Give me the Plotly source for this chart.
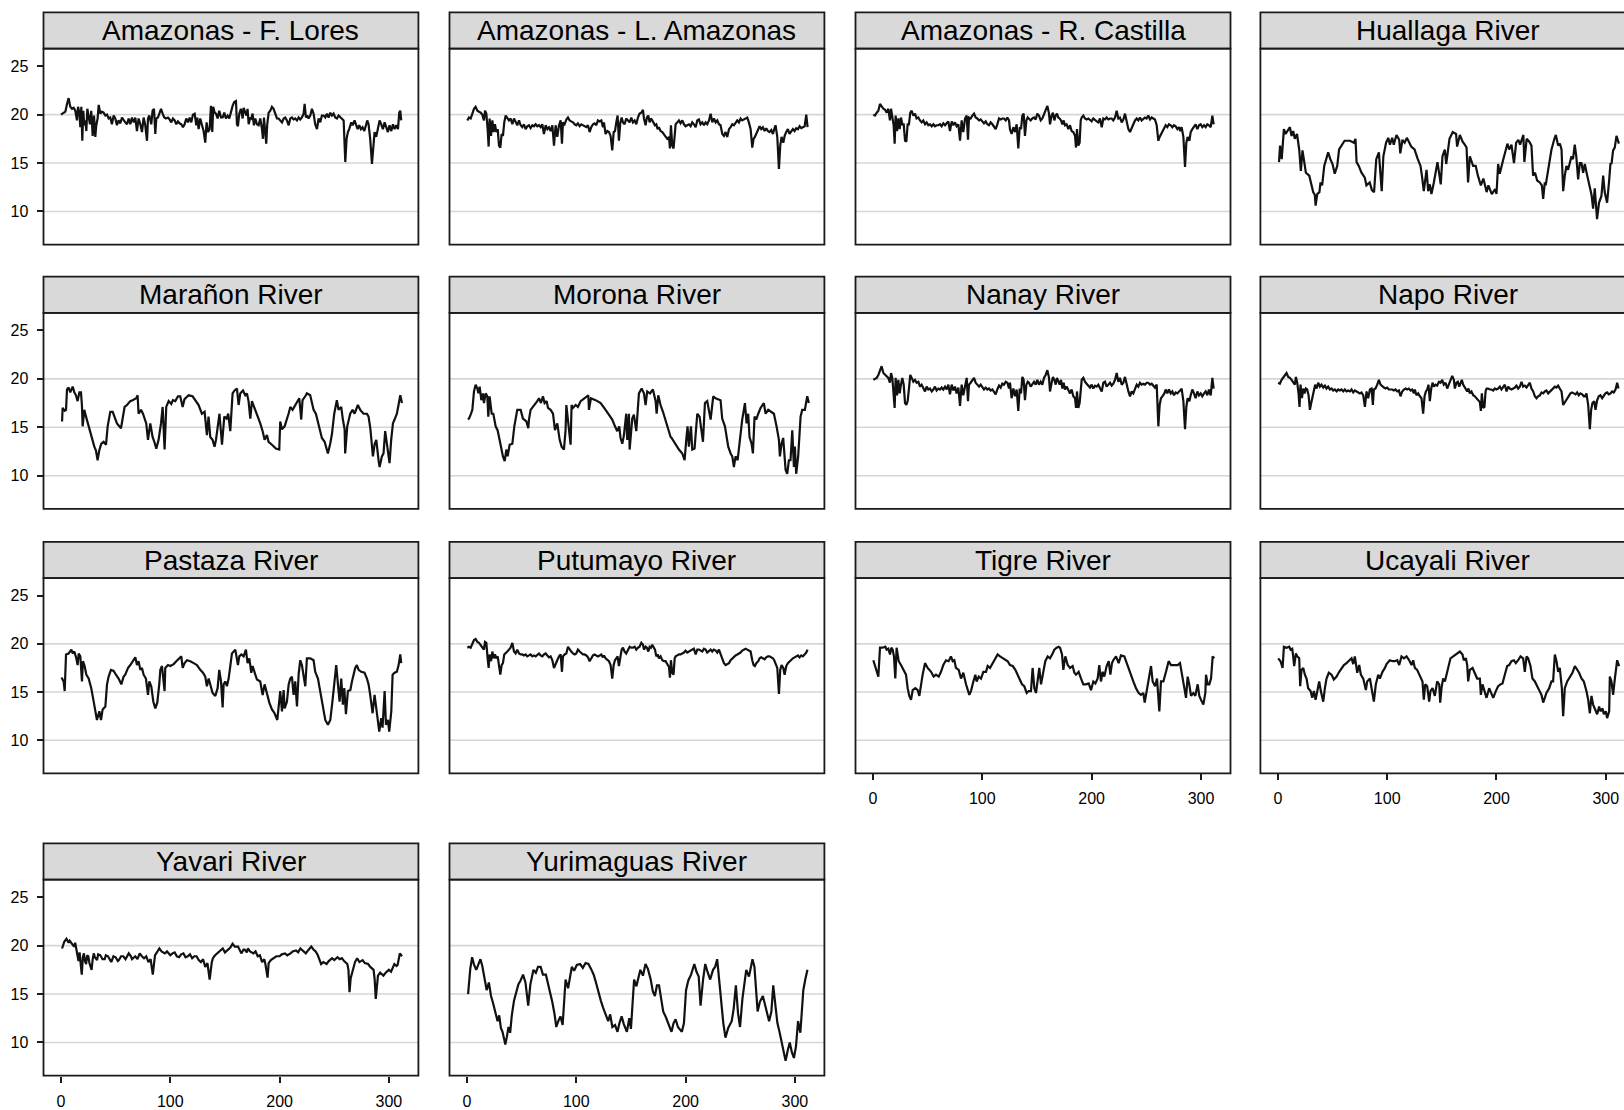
import sys
import plotly.graph_objects as go

# ---------------- DATA ----------------
Y_TICKS = [10, 15, 20, 25]
X_TICKS = [0, 100, 200, 300]

flores_x = [0, 2.4, 4.0, 5.5, 7.0, 8.5, 10.1, 11.6, 13.1, 14.6,
            15.6, 16.8, 17.7, 18.6, 19.5, 20.4, 21.3, 22.3, 23.2, 24.1,
            25.3, 26.5, 27.7, 29.0, 30.2, 31.4, 32.3, 33.5, 34.5, 36.0,
            37.5, 39.0, 40.6, 42.1, 43.6, 45.1, 46.6, 48.2, 49.7, 51.2,
            52.7, 54.3, 55.8, 57.3, 58.8, 60.4, 61.9, 63.4, 64.9, 66.5,
            68.0, 69.5, 71.0, 72.6, 74.1, 75.6, 77.1, 78.7, 79.6, 80.8,
            82.6, 83.8, 85.1, 86.3, 87.2, 88.7, 89.9, 91.5, 93.0, 94.5,
            96.0, 97.9, 99.4, 100.9, 102.4, 104.0, 105.5, 107.0, 108.5, 110.1,
            111.6, 113.1, 114.6, 116.2, 117.7, 119.2, 120.7, 122.3, 123.8, 124.7,
            125.9, 127.4, 129.0, 130.5, 132.0, 133.2, 134.5, 136.0, 137.2, 138.4,
            139.3, 140.6, 141.8, 143.3, 144.8, 146.4, 147.9, 149.4, 150.9, 152.5,
            154.0, 155.5, 157.0, 158.5, 160.1, 161.0, 161.9, 163.1, 164.6, 166.2,
            167.1, 168.6, 169.8, 170.7, 171.7, 173.2, 174.1, 175.3, 176.5, 177.8,
            179.3, 180.8, 182.3, 183.9, 184.8, 185.7, 186.9, 187.8, 188.7, 190.0,
            191.5, 193.0, 194.5, 196.1, 197.6, 199.1, 200.6, 202.2, 203.7, 205.2,
            206.7, 208.3, 209.8, 211.3, 212.8, 214.3, 215.9, 217.4, 218.9, 220.4,
            222.0, 222.9, 224.1, 225.3, 226.5, 228.1, 229.6, 231.1, 232.6, 234.2,
            235.7, 237.2, 238.7, 240.3, 241.8, 243.3, 244.8, 246.4, 247.9, 249.4,
            250.9, 252.5, 254.0, 255.5, 257.0, 258.6, 260.1, 261.3, 262.5, 263.7,
            265.6, 266.8, 268.6, 269.8, 271.4, 272.9, 274.4, 275.9, 277.5, 279.0,
            280.2, 281.4, 282.9, 284.5, 285.7, 286.9, 288.4, 289.9, 291.5, 293.0,
            294.5, 296.1, 297.6, 299.1, 300.6, 302.2, 303.7, 305.2, 306.7, 308.3,
            309.5, 310.4, 311.3]
flores_y = [20.0, 20.2, 20.3, 21.1, 21.7, 20.8, 20.6, 20.7, 20.4, 19.4,
            20.8, 20.2, 18.7, 20.8, 17.3, 20.4, 18.9, 19.4, 18.3, 20.6,
            19.9, 19.0, 20.4, 17.8, 19.9, 17.7, 18.9, 19.6, 21.0, 20.1,
            20.3, 20.2, 19.9, 20.0, 19.6, 19.7, 19.0, 19.9, 19.6, 18.9,
            19.4, 19.1, 19.7, 19.4, 19.2, 19.0, 19.6, 19.0, 19.7, 19.2,
            19.7, 18.3, 19.6, 19.0, 18.2, 19.7, 18.9, 17.3, 19.6, 19.9,
            19.0, 20.4, 20.6, 18.0, 19.6, 19.7, 20.1, 20.6, 20.1, 19.7,
            19.6, 19.7, 19.5, 19.2, 19.6, 19.4, 19.0, 19.3, 19.1, 19.0,
            18.7, 19.0, 19.6, 19.2, 19.7, 19.2, 20.0, 20.1, 18.9, 19.7,
            18.5, 19.6, 18.9, 18.3, 17.1, 19.2, 18.2, 18.5, 20.9, 18.2,
            20.8, 20.2, 20.1, 19.6, 20.4, 19.7, 19.7, 20.2, 19.6, 19.9,
            19.6, 20.4, 20.9, 21.3, 21.4, 19.0, 18.8, 20.1, 20.6, 19.6,
            20.7, 20.2, 19.9, 20.6, 19.0, 19.7, 19.6, 20.1, 18.9, 19.6,
            19.0, 18.9, 19.6, 18.5, 17.5, 19.7, 17.5, 17.0, 19.0, 20.2,
            20.4, 20.8, 20.6, 20.1, 19.6, 19.6, 19.4, 19.2, 19.6, 19.7,
            19.4, 18.9, 19.6, 19.7, 19.5, 19.6, 19.4, 19.7, 19.5, 19.7,
            20.1, 21.1, 19.7, 19.9, 19.6, 19.9, 20.6, 20.1, 19.0, 18.5,
            19.6, 19.2, 19.9, 19.9, 19.7, 20.1, 19.7, 20.2, 19.9, 20.1,
            19.7, 19.6, 19.9, 19.7, 19.6, 19.4, 15.1, 17.5, 18.2, 18.5,
            19.2, 18.9, 19.4, 19.0, 18.5, 18.9, 18.5, 18.7, 18.3, 18.9,
            19.4, 19.0, 17.5, 14.9, 17.1, 18.2, 17.7, 18.5, 19.4, 19.0,
            18.5, 19.2, 18.7, 18.2, 18.9, 18.3, 19.0, 18.5, 18.9, 18.5,
            20.2, 20.4, 19.4]

# shared sampling positions for the flat-type rivers
flat_x = [0.3, 1.8, 3.4, 4.9, 6.4, 7.9, 9.5, 11.0, 12.5, 14.0,
          15.5, 16.5, 17.7, 18.9, 19.8, 20.7, 22.0, 23.2, 24.4, 25.6,
          26.8, 28.1, 29.3, 30.5, 31.7, 32.9, 34.1, 35.4, 36.9, 38.4,
          39.9, 41.5, 43.0, 44.5, 46.0, 47.6, 49.1, 50.6, 52.1, 53.7,
          55.2, 56.7, 58.2, 59.8, 61.3, 62.8, 64.3, 65.9, 67.4, 68.9,
          70.4, 72.0, 73.5, 75.0, 76.5, 78.1, 79.6, 81.1, 82.6, 84.2,
          85.7, 86.9, 87.8, 89.3, 90.9, 92.4, 93.9, 95.4, 97.0, 98.5,
          100.0, 101.5, 103.1, 104.6, 106.1, 107.6, 109.2, 110.7, 112.2, 113.7,
          115.3, 116.8, 118.3, 119.8, 121.4, 122.9, 124.4, 125.3, 126.8, 128.4,
          129.9, 131.4, 132.9, 134.2, 135.4, 136.6, 137.8, 139.0, 140.3, 141.5,
          142.7, 144.2, 145.7, 147.3, 148.8, 150.3, 151.8, 153.4, 154.9, 156.4,
          157.9, 159.5, 161.0, 161.9, 163.4, 164.6, 165.9, 167.1, 168.3, 169.5,
          170.7, 172.0, 173.2, 174.4, 175.6, 177.1, 178.7, 180.2, 181.7, 183.2,
          184.8, 185.7, 186.6, 187.8, 189.0, 190.0, 190.9, 192.4, 193.9, 195.4,
          197.0, 198.5, 200.0, 201.5, 203.1, 204.6, 206.1, 207.6, 209.2, 210.7,
          212.2, 213.7, 215.3, 216.8, 218.3, 219.8, 221.4, 222.9, 224.4, 225.9,
          227.5, 229.0, 230.5, 232.0, 233.6, 235.1, 236.6, 238.1, 239.7, 241.2,
          242.7, 244.2, 245.7, 247.3, 248.8, 250.3, 251.8, 253.4, 254.9, 256.4,
          257.9, 259.5, 261.0, 262.2, 263.4, 264.7, 266.5, 267.7, 269.2, 270.7,
          272.3, 273.8, 275.3, 276.8, 278.4, 279.9, 281.1, 282.3, 283.9, 285.4,
          286.6, 287.8, 289.4, 290.6, 292.1, 293.6, 295.1, 296.7, 298.2, 299.7,
          301.2, 302.8, 304.3, 305.8, 307.3, 308.9, 310.4, 311.6]

lamazonas_y = [19.4, 19.7, 19.6, 20.1, 20.6, 20.8, 20.4, 20.3, 20.2, 20.0,
               19.4, 20.4, 20.1, 18.5, 16.7, 19.6, 17.8, 19.4, 18.2, 19.0,
               18.2, 18.5, 16.8, 16.6, 18.0, 17.8, 19.2, 19.9, 19.6, 19.4,
               19.6, 19.0, 19.6, 19.2, 18.9, 19.4, 18.9, 18.7, 19.0, 18.5,
               18.8, 18.9, 18.6, 18.9, 18.8, 19.0, 18.8, 18.9, 18.7, 19.0,
               18.0, 18.9, 18.5, 18.7, 18.3, 18.9, 16.8, 18.9, 17.7, 18.9,
               19.4, 17.0, 19.2, 19.0, 19.5, 19.7, 19.4, 19.3, 19.2, 19.0,
               18.9, 19.1, 18.8, 19.0, 18.9, 18.8, 18.7, 18.9, 18.2, 18.7,
               19.0, 19.1, 18.9, 19.4, 19.3, 19.4, 18.7, 19.2, 18.0, 18.3,
               18.2, 17.8, 16.3, 18.2, 18.3, 19.2, 19.9, 17.3, 19.2, 19.7,
               19.2, 19.0, 19.6, 19.4, 19.2, 19.7, 19.2, 19.4, 19.0, 19.7,
               20.1, 20.2, 20.5, 19.6, 18.9, 19.7, 19.9, 19.2, 19.6, 19.4,
               19.2, 18.9, 19.0, 18.5, 18.7, 18.3, 18.2, 18.0, 17.8, 17.5,
               17.7, 16.5, 18.9, 16.8, 16.5, 18.5, 19.0, 19.2, 19.4, 19.1,
               19.4, 19.0, 18.8, 18.9, 19.0, 18.8, 19.2, 19.0, 18.7, 19.4,
               19.5, 19.0, 19.2, 18.9, 19.2, 19.0, 19.4, 20.1, 19.2, 19.6,
               19.2, 19.4, 19.0, 18.9, 18.0, 17.8, 18.2, 17.7, 18.5, 18.7,
               19.0, 18.9, 19.1, 19.4, 19.2, 19.6, 19.4, 19.5, 19.6, 19.7,
               19.2, 18.5, 16.6, 17.5, 17.7, 18.0, 18.5, 18.8, 18.5, 18.7,
               18.3, 18.6, 18.3, 18.2, 18.4, 18.0, 18.5, 18.9, 17.7, 14.4,
               16.8, 17.7, 17.1, 17.8, 18.2, 18.5, 18.0, 18.3, 18.5, 18.3,
               18.6, 18.5, 18.8, 18.6, 18.7, 18.8, 20.0, 18.7]

rcastilla_y = [20.0, 19.9, 20.2, 20.4, 21.1, 20.8, 20.6, 20.5, 20.2, 20.6,
               19.4, 20.6, 19.9, 18.9, 17.0, 19.9, 18.3, 19.6, 18.5, 19.7,
               19.0, 19.0, 17.3, 17.2, 19.0, 19.0, 20.2, 20.4, 19.9, 20.1,
               19.6, 19.7, 19.4, 19.2, 19.4, 19.0, 19.2, 18.9, 19.0, 18.8,
               19.0, 18.8, 18.9, 18.9, 19.0, 18.8, 19.1, 18.9, 19.1, 19.3,
               18.3, 19.3, 18.9, 19.2, 18.8, 19.0, 17.3, 19.4, 18.2, 19.6,
               19.9, 17.4, 19.7, 19.6, 19.9, 20.1, 19.7, 19.6, 19.4, 19.5,
               19.3, 19.1, 19.3, 19.0, 18.9, 19.2, 19.0, 18.7, 18.5, 19.0,
               19.6, 19.5, 19.6, 19.6, 19.4, 19.7, 19.4, 18.5, 18.0, 18.7,
               18.2, 19.0, 16.5, 18.7, 18.5, 19.9, 20.1, 17.8, 19.4, 19.7,
               19.6, 19.4, 19.6, 19.7, 19.5, 20.1, 19.9, 19.4, 19.6, 20.1,
               20.4, 20.9, 20.1, 19.0, 19.9, 20.2, 19.4, 19.9, 20.1, 19.7,
               19.6, 19.4, 19.0, 19.4, 18.9, 19.0, 18.5, 18.9, 18.3, 18.2,
               17.8, 16.6, 18.5, 16.8, 17.1, 19.4, 19.7, 19.9, 19.6, 19.5,
               19.6, 19.4, 19.3, 19.6, 19.4, 19.3, 19.2, 19.6, 18.7, 19.6,
               19.5, 19.7, 19.5, 19.6, 19.6, 19.4, 19.7, 20.4, 19.6, 19.7,
               19.2, 19.5, 20.1, 19.4, 18.5, 18.2, 18.7, 19.0, 19.4, 19.6,
               19.4, 19.7, 19.4, 19.6, 19.7, 19.6, 19.9, 19.5, 19.7, 19.6,
               19.5, 18.9, 17.3, 17.7, 18.0, 18.2, 18.7, 18.9, 18.7, 19.0,
               18.9, 18.7, 18.9, 18.8, 18.5, 18.7, 18.3, 18.7, 17.7, 14.6,
               17.1, 17.7, 17.3, 18.2, 18.5, 18.7, 19.0, 18.5, 18.9, 19.0,
               18.7, 18.9, 18.7, 19.0, 18.9, 18.7, 19.9, 19.0]

nanay_y = [19.9, 20.0, 20.1, 20.4, 20.9, 21.3, 20.6, 20.4, 20.2, 20.1,
           19.6, 20.6, 20.1, 18.7, 17.0, 20.1, 18.3, 19.9, 18.5, 19.4,
           20.1, 19.4, 17.5, 17.3, 17.7, 19.0, 20.4, 20.1, 19.7, 19.9,
           19.6, 19.7, 19.2, 19.4, 19.0, 18.7, 19.2, 18.9, 19.0, 18.7,
           18.9, 19.2, 18.8, 19.0, 18.9, 19.1, 18.9, 19.2, 18.9, 19.4,
           18.4, 19.4, 18.8, 19.2, 18.5, 19.1, 17.2, 19.4, 18.3, 19.4,
           20.1, 17.7, 19.4, 19.6, 19.9, 20.1, 19.6, 19.4, 19.2, 19.4,
           19.1, 18.9, 19.1, 18.9, 19.0, 18.8, 18.9, 18.6, 18.4, 18.9,
           19.3, 19.1, 19.5, 19.4, 19.7, 19.6, 19.0, 19.6, 18.0, 19.0,
           18.2, 18.9, 16.7, 19.0, 18.5, 20.2, 19.9, 17.8, 19.4, 19.7,
           19.6, 19.2, 19.5, 19.7, 19.4, 19.9, 19.4, 19.7, 19.4, 20.1,
           20.4, 20.9, 20.1, 18.7, 19.6, 20.2, 19.9, 19.4, 20.1, 19.7,
           19.4, 19.9, 19.0, 19.6, 18.9, 19.2, 18.9, 18.5, 18.9, 18.2,
           18.0, 17.0, 18.7, 17.0, 17.5, 19.2, 19.9, 20.1, 19.7, 19.5,
           19.3, 19.1, 19.4, 19.0, 19.3, 19.2, 19.4, 19.0, 18.7, 19.6,
           19.7, 19.2, 19.4, 19.6, 19.3, 19.5, 19.9, 20.6, 19.7, 20.1,
           19.4, 19.6, 20.2, 19.4, 18.7, 18.2, 18.7, 18.5, 19.0, 19.4,
           19.2, 19.6, 19.4, 19.5, 19.4, 19.6, 19.6, 19.4, 19.5, 19.3,
           19.1, 19.4, 15.1, 17.3, 18.0, 18.2, 18.5, 18.9, 18.5, 18.9,
           18.5, 18.7, 18.3, 18.6, 18.5, 18.7, 18.8, 19.0, 17.7, 14.8,
           17.1, 18.0, 17.7, 18.3, 18.9, 18.5, 18.0, 18.7, 18.3, 18.5,
           18.2, 18.5, 18.7, 18.3, 18.9, 18.3, 20.1, 19.0]

napo_y = [19.6, 19.5, 19.9, 20.1, 20.4, 20.6, 20.2, 20.1, 19.9, 19.7,
          19.4, 20.2, 19.6, 18.5, 17.1, 19.4, 18.0, 19.0, 18.5, 19.0,
          18.9, 18.3, 16.8, 17.5, 18.2, 18.5, 19.4, 19.0, 19.6, 19.2,
          19.4, 19.1, 19.3, 19.0, 19.2, 18.9, 19.0, 18.8, 18.9, 18.7,
          18.9, 18.8, 18.9, 18.7, 18.9, 18.7, 18.8, 18.7, 18.9, 18.6,
          18.8, 18.7, 18.6, 18.5, 18.6, 18.3, 17.1, 18.7, 18.0, 18.9,
          19.0, 17.3, 18.9, 19.0, 19.4, 19.9, 19.4, 19.2, 19.1, 19.0,
          19.1, 18.9, 18.9, 18.9, 18.8, 18.9, 18.7, 18.8, 18.2, 18.7,
          18.9, 19.0, 18.9, 19.0, 18.8, 18.9, 18.5, 18.9, 18.3, 18.5,
          18.2, 18.0, 16.4, 18.2, 18.7, 18.9, 19.4, 17.7, 19.0, 19.6,
          19.2, 19.4, 19.3, 19.7, 19.6, 19.9, 19.4, 19.6, 19.0, 19.4,
          19.9, 20.3, 19.9, 19.0, 19.6, 19.7, 19.2, 19.6, 19.9, 19.4,
          19.2, 18.9, 18.7, 19.0, 18.5, 18.7, 18.3, 18.2, 18.0, 17.8,
          17.6, 16.7, 18.5, 17.0, 17.1, 18.7, 19.0, 19.0, 18.9, 18.9,
          18.8, 19.0, 18.9, 19.0, 19.2, 18.9, 19.1, 19.4, 18.7, 19.2,
          19.0, 18.9, 19.0, 19.1, 19.3, 19.0, 19.2, 19.7, 19.2, 19.3,
          19.1, 19.4, 19.6, 19.0, 18.7, 18.2, 18.0, 18.2, 18.3, 18.6,
          18.5, 18.7, 18.8, 18.5, 18.7, 18.9, 19.0, 19.2, 19.1, 19.3,
          19.0, 18.7, 17.3, 17.5, 17.8, 18.0, 18.3, 18.5, 18.6, 18.5,
          18.4, 18.6, 18.3, 18.5, 18.4, 18.2, 18.2, 18.5, 17.3, 14.8,
          16.8, 17.5, 17.7, 16.8, 17.8, 18.2, 18.3, 18.0, 18.3, 18.5,
          18.6, 18.4, 18.5, 18.7, 18.6, 18.9, 19.6, 19.0]

putumayo_y = [19.6, 19.7, 19.6, 20.1, 20.4, 20.5, 20.2, 20.1, 19.9, 19.7,
              19.4, 20.2, 20.1, 18.5, 17.5, 18.9, 18.2, 19.2, 18.5, 18.9,
              18.5, 18.7, 17.5, 16.8, 17.8, 18.0, 18.9, 19.0, 19.2, 19.4,
              19.6, 20.1, 19.2, 19.0, 19.4, 19.0, 18.9, 18.9, 18.8, 18.9,
              18.7, 18.8, 18.9, 18.7, 18.8, 18.7, 18.9, 19.0, 18.8, 18.7,
              18.9, 19.0, 18.8, 18.6, 18.7, 18.3, 17.5, 18.0, 18.3, 18.7,
              18.9, 17.1, 18.7, 18.9, 19.0, 19.7, 19.4, 19.2, 19.0, 18.9,
              19.0, 19.4, 19.2, 19.0, 18.9, 18.9, 18.8, 18.6, 18.2, 18.5,
              18.8, 18.9, 18.8, 18.7, 18.8, 18.9, 18.6, 18.8, 18.5, 18.3,
              18.2, 17.8, 16.4, 17.8, 18.3, 18.5, 18.7, 17.7, 18.7, 19.4,
              19.6, 19.2, 19.0, 19.4, 19.7, 19.6, 19.6, 19.7, 19.4, 19.6,
              19.7, 20.1, 19.9, 19.4, 19.7, 19.6, 19.2, 19.7, 19.6, 19.9,
              19.7, 19.4, 18.7, 18.9, 18.5, 18.7, 18.3, 18.2, 18.2, 17.9,
              17.6, 16.5, 18.3, 17.0, 16.8, 18.5, 18.7, 18.8, 18.9, 18.9,
              19.0, 19.1, 19.3, 19.1, 19.2, 19.3, 19.4, 19.5, 18.9, 19.4,
              19.4, 19.3, 19.2, 19.5, 19.4, 19.1, 19.3, 19.4, 19.2, 19.4,
              19.3, 19.1, 19.4, 19.0, 18.5, 18.0, 17.8, 17.9, 18.0, 18.3,
              18.5, 18.7, 18.8, 18.9, 19.0, 19.1, 19.3, 19.4, 19.5, 19.4,
              19.3, 19.2, 18.3, 17.8, 17.7, 18.0, 18.2, 18.5, 18.6, 18.5,
              18.4, 18.6, 18.7, 18.7, 18.6, 18.5, 18.3, 18.0, 17.5, 14.8,
              17.3, 17.8, 17.5, 16.8, 17.7, 18.0, 18.2, 18.3, 18.5, 18.6,
              18.7, 18.8, 18.6, 18.8, 18.7, 18.9, 19.1, 19.4]

huallaga_x = [1, 2, 3.5, 5.5, 7, 11, 12.5, 14, 15.5, 17.5,
              19.5, 21, 22.5, 24, 25.6, 28.7, 31, 32.3, 33.8, 34.5,
              36, 38, 39, 40.5, 42.4, 46, 48, 50, 52, 54.3,
              56, 58, 61, 66, 69.5, 71, 72, 74, 76.5, 79.5,
              81, 84, 86, 88, 90, 92.4, 95, 96.5, 99, 101,
              102.5, 104.6, 106, 108.5, 111, 112, 114, 116, 118, 122,
              125, 128, 130.5, 132, 133.5, 136, 137.5, 139, 140.5, 142.7,
              144, 146, 149, 150.6, 152.7, 154, 157, 160, 163, 164,
              166.5, 169, 171, 172.6, 174, 175.6, 178.6, 181, 183, 185.7,
              188, 191, 192.6, 195.7, 198.8, 200, 201.5, 203, 206, 210,
              211.6, 213.7, 216, 218, 220, 221.6, 224.6, 225.5, 227.6, 230,
              232, 233.5, 235.3, 237.2, 239.6, 241.5, 242.7, 244.2, 245, 247.3,
              248.8, 250.3, 253, 254.3, 256.4, 258, 259.5, 261, 262.5, 264,
              265.5, 268.6, 270, 271.6, 273, 274.7, 276.2, 277.7, 279.3, 280.8,
              283, 285, 287, 288.4, 289.9, 292, 293.8, 296, 297.6, 299,
              301.2, 303, 304.3, 305.2, 306.7, 308.2, 309.8, 312]
huallaga_y = [15.1, 16.8, 15.4, 18.5, 18.0, 18.7, 17.8, 18.3, 17.5, 18.0,
              16.4, 14.2, 16.3, 15.1, 14.0, 13.7, 12.7, 12.0, 11.7, 10.6,
              11.8, 12.0, 13.0, 12.7, 14.7, 16.1, 15.4, 14.9, 13.9, 14.7,
              16.4, 16.8, 17.3, 17.3, 17.1, 17.5, 15.1, 14.7, 14.0, 13.5,
              12.7, 13.0, 12.2, 12.0, 15.4, 16.1, 12.1, 15.7, 17.1, 17.6,
              16.9, 17.6, 16.9, 17.9, 17.4, 16.0, 17.4, 17.1, 17.6, 16.7,
              16.4, 15.4, 14.7, 13.5, 12.1, 14.3, 12.1, 12.8, 11.8, 13.0,
              14.0, 15.1, 12.8, 15.7, 16.4, 14.9, 17.5, 18.2, 18.0, 16.7,
              17.9, 17.2, 16.9, 16.6, 13.0, 15.7, 14.7, 14.7, 13.7, 12.7,
              13.4, 12.0, 12.7, 11.8, 12.3, 11.8, 14.9, 13.9, 15.3, 17.0,
              16.4, 16.9, 15.0, 17.1, 17.4, 16.9, 17.9, 15.1, 17.5, 17.2,
              16.8, 13.7, 14.0, 13.2, 13.0, 12.7, 11.3, 13.0, 12.7, 14.4,
              15.7, 16.4, 17.5, 17.9, 16.8, 17.0, 16.4, 12.1, 13.7, 14.7,
              14.3, 15.7, 15.4, 16.9, 15.7, 13.3, 15.0, 15.0, 14.0, 14.9,
              13.7, 12.7, 11.7, 10.3, 12.4, 9.2, 10.9, 11.6, 13.7, 12.0,
              10.9, 13.1, 15.0, 14.9, 16.3, 16.6, 17.8, 17.0]

maranon_x = [1, 1.5, 3.4, 4.6, 5.5, 7, 8.5, 10.7, 12.2, 13.7,
             15.2, 16.8, 18.3, 19.2, 19.8, 21.3, 22.9, 25.3, 27.7, 29,
             30.5, 32, 33.5, 35, 36.9, 39, 41.2, 42.7, 45.1, 47.3,
             49, 51.2, 54.9, 56.4, 58.2, 60.4, 63.4, 65.5, 68.9, 70.1,
             71, 73.2, 75, 78, 79.6, 81.7, 83.8, 85.4, 87.2, 89.3,
             91.5, 93, 94.8, 96.3, 98.5, 100.9, 102.4, 104.6, 107, 109.1,
             111.3, 113, 116.8, 120.4, 123.5, 125.9, 128.9, 131.4, 133.5, 135,
             136.6, 138.7, 140.5, 141.8, 145, 147.3, 149.4, 151.5, 153, 154.9,
             157, 158.8, 161, 162.5, 164, 166.5, 168.6, 170.1, 171.6, 173.2,
             174.7, 177.7, 179.9, 182.3, 184.5, 186.3, 188.4, 189.9, 193, 196.6,
             199.7, 200.6, 202.1, 204.6, 208.2, 209.8, 211.9, 215.9, 218, 219.8,
             221, 223.5, 225, 228, 231.1, 233.2, 236.3, 238.7, 241.2, 242.7,
             244.2, 246.3, 247.9, 250, 252.4, 253.9, 256.4, 257.9, 259.5, 260,
             261.9, 264.6, 266.8, 268.6, 271.6, 273.8, 276.8, 279.9, 281.4, 283,
             284.5, 285.4, 287, 288.5, 290.5, 291.5, 293.6, 295.1, 296.6, 299.1,
             300.6, 302.1, 303.7, 305.2, 307.3, 308.8, 310.4, 312]
maranon_y = [15.6, 17.0, 16.7, 16.8, 18.9, 19.1, 18.6, 19.2, 18.6, 18.3,
             17.7, 18.6, 18.6, 17.2, 15.1, 16.8, 16.1, 15.1, 14.2, 13.5,
             13.0, 12.6, 11.6, 12.6, 13.3, 13.5, 13.2, 15.1, 16.6, 16.6,
             16.1, 15.4, 14.9, 15.8, 17.1, 17.3, 17.7, 17.8, 18.0, 18.3,
             16.4, 16.8, 16.4, 15.4, 13.7, 15.4, 14.0, 13.5, 12.8, 13.7,
             15.4, 17.1, 12.7, 17.1, 17.7, 17.4, 17.8, 17.7, 18.2, 18.2,
             17.1, 17.9, 18.3, 18.2, 17.7, 17.3, 16.4, 16.6, 14.2, 16.1,
             14.0, 13.7, 13.0, 13.7, 16.4, 13.2, 16.1, 15.9, 16.4, 14.6,
             18.5, 18.8, 19.0, 17.3, 18.5, 18.8, 18.3, 18.5, 17.7, 15.9,
             17.7, 16.8, 16.3, 15.4, 14.6, 13.7, 14.2, 13.5, 13.2, 12.8,
             12.7, 15.6, 14.8, 15.1, 16.4, 17.1, 16.8, 17.7, 18.0, 15.8,
             17.8, 18.2, 18.5, 18.3, 16.8, 16.4, 15.1, 13.9, 13.5, 12.8,
             12.3, 13.3, 14.3, 16.4, 17.8, 16.8, 17.1, 15.8, 14.8, 12.3,
             15.1, 16.4, 16.8, 16.4, 17.3, 16.8, 16.4, 16.4, 16.1, 14.9,
             13.3, 12.0, 13.3, 13.7, 11.6, 10.9, 12.0, 12.3, 14.6, 12.3,
             11.3, 13.7, 15.4, 15.8, 16.4, 17.3, 18.3, 17.5]

morona_x = [1, 1.8, 3.7, 4.9, 6.4, 7.9, 9.5, 10.4, 11.6, 13.1,
            14.6, 15.5, 17.1, 18.6, 19.5, 20.7, 22.6, 24.1, 26.2, 28,
            29.3, 31.1, 32.9, 34.5, 36, 37.2, 39, 41.5, 43.3, 46,
            49.1, 51.2, 54.3, 56.1, 56.7, 58.2, 60.4, 64.3, 65.9, 67.7,
            69.5, 71, 72.9, 74.1, 76.5, 78.7, 80.5, 82.6, 84.8, 86.6,
            88.7, 90.2, 90.9, 94.8, 95.7, 97, 99.4, 101.5, 104, 107.9,
            111, 111.6, 113.4, 117.7, 122.3, 126.8, 129.3, 132.9, 135.4, 137.5,
            139.3, 140.5, 142.1, 143.6, 145.7, 146.6, 148.2, 148.8, 151.2, 152.7,
            154.9, 157.3, 159.8, 161.9, 163.4, 164.9, 167.4, 170.1, 172.6, 173.5,
            175, 177.1, 179.3, 183.2, 186.3, 187.2, 190.9, 193.9, 197, 199.1,
            200.6, 201.8, 203, 204.9, 206.1, 208.2, 210.7, 212.8, 215.9, 217.7,
            219.8, 222.9, 225.3, 227.4, 232, 233.5, 236, 239, 241.2, 242.7,
            244.2, 245.7, 247.6, 248.8, 250.3, 251.8, 254.3, 255.8, 257.3, 258.5,
            260.4, 261.6, 263.1, 264.6, 266.5, 268.6, 271.6, 273.2, 275.6, 277.7,
            280.8, 283.2, 285.4, 286.3, 287.8, 289.3, 291.5, 293, 294.5, 296,
            297.6, 299.1, 300, 301.2, 303, 304.3, 305.2, 306.7, 309.1, 311.3,
            312.8]
morona_y = [15.8, 15.9, 16.4, 16.8, 18.7, 19.4, 19.0, 18.5, 19.2, 17.8,
            18.5, 17.5, 18.5, 18.2, 16.1, 18.2, 16.4, 16.4, 15.1, 14.7,
            14.0, 13.0, 12.0, 11.5, 12.7, 12.0, 13.2, 13.3, 15.1, 16.8,
            16.8, 15.9, 15.6, 14.9, 15.8, 16.8, 17.1, 17.7, 18.0, 17.5,
            18.2, 17.5, 17.7, 17.0, 16.8, 16.4, 14.7, 15.4, 13.7, 13.0,
            12.7, 14.7, 17.3, 13.2, 17.3, 17.0, 17.3, 17.1, 17.7, 18.0,
            18.3, 16.8, 18.0, 17.8, 17.5, 16.8, 16.4, 15.8, 15.1, 14.6,
            15.1, 13.9, 13.3, 14.2, 16.4, 13.7, 16.4, 12.7, 15.9, 16.3,
            14.6, 18.5, 19.0, 18.5, 17.3, 18.7, 18.5, 18.9, 17.7, 16.4,
            18.3, 17.3, 16.6, 15.1, 14.0, 13.9, 13.2, 12.7, 12.3, 11.6,
            13.7, 15.1, 13.0, 15.1, 12.7, 12.8, 16.4, 16.1, 13.5, 17.5,
            17.7, 15.8, 18.2, 18.0, 17.8, 15.9, 15.1, 13.0, 12.3, 12.0,
            10.9, 12.0, 11.6, 13.0, 14.2, 15.8, 17.5, 15.4, 16.4, 14.0,
            13.3, 12.3, 16.1, 15.8, 16.4, 17.0, 17.5, 16.4, 16.8, 16.6,
            16.4, 15.1, 13.7, 12.0, 13.3, 13.9, 10.6, 10.2, 11.6, 11.6,
            14.7, 10.9, 13.0, 10.2, 12.0, 14.4, 16.1, 16.8, 16.8, 18.2,
            17.5]

pastaza_x = [0.5, 2.4, 3.4, 4.6, 7.0, 9.5, 10.7, 12.2, 14.0, 15.2,
             16.2, 17.7, 19.2, 20.1, 21.6, 23.2, 25.3, 27.7, 29.3, 31.4,
             32.9, 35.1, 36.6, 38.1, 40.6, 42.1, 43.6, 45.7, 48.2, 50.3,
             52.7, 55.2, 57.3, 58.8, 61.3, 63.4, 65.6, 68.0, 69.5, 71.0,
             72.6, 74.1, 75.6, 77.7, 79.6, 80.8, 82.6, 84.5, 86.3, 88.1,
             89.9, 90.9, 92.4, 94.8, 95.4, 97.9, 100.0, 103.1, 105.5, 108.5,
             110.1, 111.3, 113.1, 115.3, 118.3, 121.4, 124.4, 127.4, 129.9, 132.0,
             133.5, 135.1, 136.6, 138.7, 141.2, 143.3, 144.8, 146.4, 147.9, 148.8,
             150.3, 151.8, 153.4, 154.9, 156.4, 159.5, 161.9, 163.1, 165.0, 167.1,
             169.2, 170.7, 172.3, 174.1, 175.3, 177.8, 179.3, 182.3, 184.5, 186.3,
             188.4, 190.6, 193.0, 195.4, 197.9, 199.7, 200.6, 202.2, 203.7, 204.6,
             206.7, 208.3, 209.8, 211.3, 212.8, 214.3, 215.9, 217.4, 218.9, 220.4,
             222.0, 223.5, 225.0, 228.1, 231.1, 232.6, 235.1, 237.2, 239.3, 241.8,
             244.2, 246.4, 248.5, 250.3, 251.8, 253.4, 254.9, 256.4, 257.9, 259.2,
             260.7, 262.5, 264.7, 266.2, 267.7, 269.2, 270.7, 272.3, 274.7, 277.7,
             279.9, 281.4, 282.9, 285.1, 286.9, 289.1, 291.2, 293.0, 294.2, 296.1,
             297.3, 299.1, 300.3, 302.2, 303.4, 305.2, 307.3, 308.9, 310.4, 311.3]
pastaza_y = [16.5, 16.1, 15.1, 18.9, 19.0, 19.4, 19.0, 19.2, 18.5, 17.8,
             19.0, 18.7, 16.1, 18.2, 17.7, 16.8, 16.4, 15.4, 14.4, 13.2,
             12.1, 13.0, 12.1, 13.2, 13.5, 15.8, 16.6, 17.3, 17.2, 16.8,
             16.4, 15.8, 16.6, 16.8, 17.5, 17.8, 18.2, 18.6, 17.8, 18.2,
             17.3, 17.5, 16.8, 16.4, 14.7, 16.1, 15.6, 14.0, 13.3, 13.9,
             15.8, 17.3, 17.7, 15.1, 17.5, 17.8, 17.7, 17.9, 18.2, 18.5,
             18.7, 17.5, 18.0, 18.3, 18.2, 18.0, 17.8, 17.3, 17.0, 16.6,
             15.6, 16.4, 15.8, 14.9, 14.6, 15.4, 17.3, 16.1, 13.4, 15.8,
             16.1, 15.6, 16.4, 17.8, 19.0, 19.4, 17.8, 18.7, 18.9, 18.7,
             19.4, 18.0, 18.5, 17.0, 17.7, 16.8, 16.3, 16.1, 14.7, 15.8,
             14.7, 13.9, 13.2, 12.8, 12.1, 13.7, 15.1, 13.0, 15.2, 13.3,
             14.0, 15.8, 16.4, 16.6, 14.7, 16.1, 13.5, 16.8, 18.3, 17.8,
             16.8, 15.6, 18.5, 18.5, 18.3, 17.1, 16.4, 15.1, 13.5, 12.1,
             11.6, 12.1, 14.2, 16.1, 17.8, 15.8, 14.0, 16.4, 13.7, 15.4,
             12.7, 15.1, 15.2, 16.1, 17.0, 17.5, 17.8, 17.3, 17.1, 17.0,
             16.4, 15.8, 14.7, 12.8, 14.7, 13.0, 10.9, 12.3, 11.3, 15.1,
             11.6, 12.1, 10.9, 13.0, 16.8, 17.0, 17.1, 17.8, 18.9, 18.0]

tigre_x = [0.3, 2.7, 4.9, 6.4, 8.8, 11.3, 12.5, 14.0, 15.6, 16.8,
           18.0, 19.2, 20.4, 21.6, 23.5, 25.6, 27.7, 30.2, 31.7, 33.2,
           34.8, 36.3, 38.7, 40.9, 42.4, 43.9, 45.4, 47.6, 50.0, 53.1,
           55.5, 57.6, 60.1, 62.2, 64.3, 66.8, 69.2, 71.3, 72.9, 74.4,
           75.9, 78.4, 80.5, 82.6, 85.1, 88.1, 89.6, 91.8, 93.6, 94.8,
           96.7, 98.8, 100.9, 103.4, 104.9, 107.0, 109.5, 111.9, 114.0, 116.2,
           118.6, 121.0, 123.2, 125.3, 127.8, 130.2, 132.3, 134.5, 136.3, 138.4,
           140.6, 142.4, 144.5, 146.0, 147.6, 149.1, 150.6, 152.1, 153.7, 155.2,
           157.6, 159.8, 161.9, 164.3, 165.9, 168.0, 169.8, 171.1, 172.9, 174.1,
           175.9, 178.1, 180.2, 182.6, 184.2, 185.7, 188.1, 190.3, 192.4, 194.8,
           197.3, 199.4, 201.5, 203.4, 205.5, 207.0, 208.5, 210.1, 211.6, 213.7,
           215.6, 217.1, 218.6, 219.8, 222.3, 224.7, 226.8, 229.9, 231.4, 233.9,
           236.0, 238.1, 240.6, 243.0, 245.1, 247.3, 248.5, 250.3, 252.2, 254.3,
           255.8, 258.0, 259.8, 261.9, 263.4, 265.6, 268.0, 270.4, 272.6, 275.6,
           278.7, 280.8, 282.6, 284.8, 286.3, 287.8, 289.3, 290.9, 293.0, 294.8,
           297.0, 298.5, 300.0, 302.2, 304.0, 304.6, 306.1, 307.6, 309.2, 310.7,
           312.2]
tigre_y = [18.3, 17.5, 16.6, 19.6, 19.6, 19.7, 19.4, 19.5, 18.9, 19.6,
           19.4, 18.7, 16.4, 19.6, 18.2, 17.8, 17.3, 16.8, 15.4, 14.6,
           14.2, 15.2, 15.4, 15.2, 14.6, 15.8, 16.8, 18.0, 17.5, 17.1,
           16.6, 16.8, 16.6, 17.1, 17.8, 18.3, 18.2, 18.7, 18.2, 18.3,
           17.5, 17.3, 16.4, 17.0, 15.8, 14.7, 15.1, 16.1, 16.8, 16.1,
           16.6, 16.4, 17.1, 17.1, 17.7, 17.5, 18.0, 18.5, 18.9, 18.7,
           18.5, 18.3, 18.2, 17.8, 17.7, 17.3, 16.8, 16.4, 15.8, 15.6,
           14.9, 15.1, 15.1, 17.5, 15.4, 14.9, 16.4, 17.5, 15.8, 16.8,
           18.2, 18.7, 18.5, 19.0, 19.4, 19.6, 19.7, 19.6, 18.9, 17.3,
           18.7, 17.8, 17.5, 17.7, 17.0, 16.8, 17.1, 16.4, 15.8, 15.8,
           15.9, 15.2, 16.1, 15.9, 16.4, 17.8, 16.1, 17.1, 16.6, 17.7,
           18.2, 16.8, 18.0, 18.3, 18.7, 18.0, 18.8, 18.7, 18.2, 17.5,
           16.6, 16.1, 15.4, 14.9, 14.7, 14.9, 13.9, 15.1, 16.1, 17.7,
           16.1, 15.6, 16.4, 13.0, 16.1, 16.1, 17.1, 18.2, 17.8, 17.8,
           17.8, 18.0, 17.0, 15.4, 14.4, 16.6, 15.8, 14.6, 14.9, 14.6,
           15.8, 14.6, 14.2, 13.7, 14.9, 16.8, 15.8, 15.8, 16.4, 18.7,
           18.5]

ucayali_x = [0.3, 2.4, 4.3, 5.5, 7.9, 10.4, 11.6, 13.1, 14.0, 14.9,
             16.5, 17.7, 19.5, 20.4, 21.6, 23.2, 24.7, 26.2, 27.7, 29.9,
             31.4, 32.9, 34.5, 36.0, 37.8, 39.3, 41.5, 43.0, 44.5, 46.6,
             49.1, 51.2, 53.7, 56.1, 58.2, 60.4, 62.8, 65.2, 67.4, 68.9,
             70.4, 72.6, 74.4, 75.9, 78.1, 80.5, 81.7, 84.2, 86.6, 87.8,
             89.6, 91.8, 93.3, 95.7, 97.9, 99.4, 102.4, 104.9, 107.0, 109.2,
             111.0, 113.1, 115.3, 117.7, 120.1, 122.3, 123.8, 125.3, 127.4, 129.9,
             132.3, 133.5, 134.8, 136.6, 138.4, 139.6, 141.5, 143.6, 145.7, 147.6,
             148.5, 149.7, 151.2, 152.8, 154.3, 155.8, 157.9, 160.4, 162.8, 164.3,
             166.5, 168.9, 170.1, 172.0, 173.2, 174.1, 175.6, 178.1, 180.2, 182.3,
             184.8, 185.7, 187.2, 189.3, 190.9, 193.3, 195.4, 197.0, 199.4, 201.5,
             203.7, 205.5, 207.6, 209.8, 211.6, 213.7, 215.9, 217.7, 219.8, 222.0,
             224.4, 225.9, 227.5, 229.0, 231.1, 232.9, 235.1, 236.6, 239.0, 241.2,
             242.7, 244.2, 245.7, 248.2, 250.3, 251.8, 253.4, 254.9, 256.4, 257.9,
             259.8, 261.0, 262.5, 264.7, 267.1, 269.5, 271.7, 273.8, 275.6, 277.8,
             279.9, 282.3, 283.9, 285.4, 286.9, 288.4, 290.0, 292.1, 293.9, 295.1,
             297.0, 298.2, 300.0, 301.2, 303.1, 303.7, 305.2, 306.7, 308.3, 310.4,
             312.2]
ucayali_y = [18.5, 18.2, 17.5, 19.7, 19.6, 19.7, 19.4, 19.5, 18.7, 17.7,
             19.0, 18.7, 18.5, 15.6, 17.3, 17.5, 16.8, 16.4, 15.4, 15.1,
             14.4, 15.1, 14.2, 15.2, 16.1, 15.1, 14.0, 15.4, 16.4, 17.0,
             16.8, 16.3, 16.6, 17.1, 17.5, 17.8, 18.0, 18.3, 18.5, 17.9,
             18.7, 17.0, 17.8, 16.8, 16.4, 15.2, 16.1, 16.4, 14.7, 14.0,
             15.8, 16.8, 16.4, 17.1, 17.5, 17.9, 18.3, 18.2, 18.2, 18.3,
             17.8, 18.7, 18.5, 18.7, 18.3, 17.8, 18.3, 17.5, 17.3, 16.6,
             16.1, 14.2, 15.8, 15.6, 14.0, 15.1, 15.4, 14.6, 16.1, 15.8,
             13.9, 15.4, 16.4, 16.1, 16.8, 17.7, 18.5, 18.7, 18.9, 19.0,
             19.2, 18.9, 18.3, 18.5, 17.8, 16.1, 17.3, 17.5, 17.0, 16.4,
             16.4, 14.7, 15.8, 14.9, 14.4, 15.4, 14.9, 14.4, 15.1, 15.6,
             15.8, 15.9, 16.8, 17.7, 17.8, 18.2, 18.3, 18.0, 18.3, 18.7,
             18.5, 17.1, 18.7, 18.5, 17.7, 16.4, 16.1, 15.8, 15.2, 14.7,
             13.9, 14.4, 14.9, 15.4, 16.1, 16.1, 18.9, 18.2, 17.1, 17.5,
             15.4, 12.5, 15.4, 16.1, 16.6, 17.0, 17.7, 17.3, 17.0, 16.4,
             16.1, 15.1, 14.2, 12.8, 14.6, 13.7, 13.2, 12.7, 13.5, 13.0,
             13.3, 12.7, 13.0, 12.3, 13.0, 16.6, 16.1, 14.7, 16.4, 18.3,
             17.7]

yavari_x = [1, 3, 5, 7, 8, 10, 12, 13, 15, 16,
            17, 19, 20, 21, 22, 23, 24, 25, 26, 28,
            29, 30, 31, 33, 34, 36, 38, 40, 41, 43,
            45, 46, 48, 50, 52, 53, 55, 57, 59, 62,
            64, 65, 67, 68, 70, 72, 74, 76, 78, 80,
            82, 84, 86, 88, 90, 92, 95, 97, 100, 102,
            104, 106, 108, 110, 112, 114, 116, 118, 120, 122,
            124, 126, 128, 130, 132, 134, 136, 138, 139, 141,
            143, 146, 148, 150, 152, 155, 157, 159, 162, 164,
            165, 167, 168, 170, 171, 173, 176, 178, 180, 182,
            184, 186, 187, 189, 190, 192, 195, 197, 200, 202,
            205, 207, 210, 212, 215, 217, 219, 221, 224, 226,
            229, 231, 233, 235, 236, 238, 240, 243, 245, 248,
            250, 253, 255, 257, 259, 262, 263, 264, 265, 267,
            269, 271, 273, 276, 278, 281, 283, 286, 287, 288,
            289, 290, 292, 295, 297, 300, 302, 305, 307, 308,
            310, 312]
yavari_y = [19.7, 20.4, 20.7, 20.3, 20.5, 20.2, 19.9, 20.3, 19.2, 18.4,
            19.3, 17.0, 18.8, 19.2, 18.4, 18.1, 19.0, 18.9, 18.2, 17.5,
            18.6, 19.2, 18.8, 18.5, 19.1, 19.0, 18.6, 18.6, 19.0, 18.9,
            18.5, 18.3, 18.9, 18.8, 18.4, 18.5, 18.9, 18.9, 18.6, 19.2,
            18.9, 18.6, 18.8, 18.9, 18.6, 19.2, 18.9, 18.7, 18.9, 18.3,
            18.6, 17.0, 19.0, 19.3, 19.7, 19.4, 19.2, 19.4, 19.0, 19.2,
            19.3, 18.9, 18.8, 19.1, 19.2, 18.8, 18.9, 19.1, 18.7, 18.9,
            18.9, 18.5, 18.3, 18.6, 17.8, 18.2, 16.5, 18.3, 18.7, 19.0,
            19.2, 19.4, 19.7, 19.3, 19.5, 19.8, 20.2, 19.9, 19.9, 19.5,
            19.2, 19.6, 19.6, 19.3, 19.7, 19.4, 19.2, 19.4, 18.9, 19.0,
            18.3, 18.6, 18.1, 16.7, 18.2, 18.5, 18.7, 18.9, 18.9, 19.1,
            19.2, 19.0, 19.2, 19.4, 19.5, 19.3, 19.7, 19.5, 19.2, 19.5,
            19.9, 19.6, 19.4, 19.0, 18.7, 18.1, 18.3, 18.1, 18.4, 18.7,
            18.5, 18.8, 18.6, 18.7, 18.4, 18.1, 17.5, 15.2, 16.6, 17.5,
            18.3, 18.7, 18.3, 18.5, 18.2, 18.1, 17.8, 17.5, 16.5, 14.5,
            16.0, 16.9, 17.2, 16.9, 17.2, 17.5, 17.3, 18.1, 17.9, 18.0,
            19.2, 18.9]

yurimaguas_x = [1, 3, 4.7, 6.5, 8.5, 10.5, 12.3, 14, 16, 18,
                20, 22, 24, 26, 28, 29.5, 31, 32.5, 34, 35.1,
                36.5, 38, 39.5, 41, 43, 45, 47, 49, 51.3, 53.5,
                56, 58, 60.8, 63, 65, 67.4, 69.5, 72.2, 74, 76,
                78, 80, 81.7, 83.5, 85.5, 87.5, 90.2, 92.5, 95.9, 98,
                100.5, 103.5, 106, 108.5, 111.1, 113.5, 115.9, 118, 120, 122.5,
                124.5, 127, 129.2, 131, 133, 135.5, 137.7, 139.5, 141.5, 143.5,
                146.3, 148.5, 150, 152.9, 155, 158.6, 161, 163.3, 165.5, 168.1,
                170, 171.9, 173.8, 175.7, 177.5, 179.5, 182, 184.5, 187.1, 189,
                190.9, 193, 196.6, 198.5, 200.4, 202.5, 205, 208.0, 210, 212,
                213.7, 216, 218, 220.3, 222.5, 225.1, 227, 228.9, 231, 233,
                234.5, 236.5, 239, 242.2, 244, 246.0, 248, 249.8, 252, 255.5,
                258, 261.2, 263, 265.9, 268, 270.7, 273, 276.4, 278.5, 280.2,
                282.5, 284, 285.9, 288, 290, 291.5, 293.5, 295.3, 297.2, 299.1,
                301, 302.9, 305, 307.7, 309.5, 311.5]
yurimaguas_y = [15.0, 17.6, 18.8, 18.0, 17.5, 18.2, 18.6, 17.9, 16.5, 15.4,
                16.2, 14.8, 14.0, 13.2, 12.2, 12.8, 11.5, 11.1, 10.4, 9.8,
                10.6, 11.6, 11.0, 12.8, 14.3, 15.2, 16.0, 16.4, 17.0, 16.2,
                13.8, 16.0, 17.5, 17.2, 17.8, 17.8, 17.0, 17.0, 16.2, 15.0,
                14.2, 13.0, 11.6, 12.2, 12.7, 11.8, 16.5, 15.6, 17.8, 17.4,
                18.0, 18.1, 17.7, 18.2, 18.1, 17.6, 17.0, 16.2, 15.3, 14.3,
                13.6, 12.8, 12.2, 12.9, 11.6, 11.8, 11.1, 12.0, 12.7, 11.9,
                11.1, 12.5, 11.4, 16.5, 15.8, 17.5, 16.9, 18.1, 17.6, 16.5,
                15.3, 14.8, 15.9, 15.9, 14.6, 13.2, 12.6, 11.8, 11.1, 12.0,
                12.4, 11.6, 11.1, 12.0, 15.4, 16.4, 17.0, 18.1, 17.3, 16.8,
                13.8, 16.5, 18.1, 17.2, 16.5, 17.5, 17.8, 18.6, 16.0, 14.0,
                12.0, 10.5, 11.5, 12.2, 13.5, 15.9, 13.0, 11.6, 14.5, 17.5,
                16.8, 18.6, 17.8, 13.2, 14.2, 14.8, 13.6, 12.2, 13.2, 15.9,
                13.5, 12.0, 11.1, 10.0, 9.0, 8.1, 9.2, 10.0, 9.0, 8.4,
                9.6, 12.2, 11.0, 15.4, 16.5, 17.5]

panels = [
    ("Amazonas - F. Lores", flores_x, flores_y),
    ("Amazonas - L. Amazonas", flat_x, lamazonas_y),
    ("Amazonas - R. Castilla", flat_x, rcastilla_y),
    ("Huallaga River", huallaga_x, huallaga_y),
    ("Marañon River", maranon_x, maranon_y),
    ("Morona River", morona_x, morona_y),
    ("Nanay River", flat_x, nanay_y),
    ("Napo River", flat_x, napo_y),
    ("Pastaza River", pastaza_x, pastaza_y),
    ("Putumayo River", flat_x, putumayo_y),
    ("Tigre River", tigre_x, tigre_y),
    ("Ucayali River", ucayali_x, ucayali_y),
    ("Yavari River", yavari_x, yavari_y),
    ("Yurimaguas River", yurimaguas_x, yurimaguas_y),
]
XLABEL_PANELS = {10, 11, 12, 13}

# ---------------- LAYOUT ----------------
W, H = 1624, 1110
YS = 1.0095  # vertical calibration
COL_PX = [(43.5, 418.4), (449.5, 824.4), (855.5, 1230.5), (1260.4, 1635.3)]
ROW_PX = [(48.7 * YS, 245.5 * YS), (313.8 * YS, 510.6 * YS),
          (580.0 * YS, 775.8 * YS), (882.4 * YS, 1079.2 * YS)]
HEADER_H = 36.3 * YS
X_RANGE = [-16, 327]
Y_RANGE = [6.57, 26.82]
FRAME = "#1a1a1a"
FONT = "Liberation Sans, Arial, Helvetica, sans-serif"

fig = go.Figure()
layout = {}
shapes = []
annotations = []

for i, (name, xs, ys) in enumerate(panels):
    n = min(len(xs), len(ys))
    if len(xs) != len(ys):
        print(f"warning: {name} length mismatch {len(xs)} vs {len(ys)}", file=sys.stderr)
    r, c = divmod(i, 4)
    px0, px1 = COL_PX[c]
    py0, py1 = ROW_PX[r]
    vis_px1 = min(px1, W)
    xr = [X_RANGE[0], X_RANGE[0] + (X_RANGE[1] - X_RANGE[0]) * (vis_px1 - px0) / (px1 - px0)]
    k = "" if i == 0 else str(i + 1)
    show_x = i in XLABEL_PANELS
    show_y = c == 0
    layout["xaxis" + k] = dict(
        domain=[px0 / W, vis_px1 / W], range=xr, anchor="y" + k,
        showgrid=False, zeroline=False, showline=False,
        tickvals=X_TICKS, ticks="outside" if show_x else "", showticklabels=show_x,
        ticklen=6, tickwidth=1.5, tickcolor=FRAME, ticklabelstandoff=5,
        tickfont=dict(size=16, color="#000", family=FONT), fixedrange=True)
    layout["yaxis" + k] = dict(
        domain=[1 - py1 / H, 1 - py0 / H], range=Y_RANGE, anchor="x" + k,
        showgrid=False, zeroline=False, showline=False,
        tickvals=Y_TICKS, ticks="outside" if show_y else "", showticklabels=show_y,
        ticklen=6, tickwidth=1.5, tickcolor=FRAME, ticklabelstandoff=5,
        tickfont=dict(size=16, color="#000", family=FONT), fixedrange=True)

    for gv in (10, 15, 20):
        shapes.append(dict(type="line", xref="x" + k + " domain", yref="y" + k,
                           x0=0, x1=1, y0=gv, y1=gv, layer="below",
                           line=dict(color="#d6d6d6", width=1.6)))
    shapes.append(dict(type="rect", xref="paper", yref="paper",
                       x0=px0 / W, x1=px1 / W, y0=1 - py1 / H, y1=1 - py0 / H,
                       line=dict(color=FRAME, width=1.8), fillcolor="rgba(0,0,0,0)", layer="above"))
    shapes.append(dict(type="rect", xref="paper", yref="paper",
                       x0=px0 / W, x1=px1 / W, y0=1 - py0 / H, y1=1 - (py0 - HEADER_H) / H,
                       line=dict(color=FRAME, width=1.8), fillcolor="#d9d9d9", layer="below"))
    annotations.append(dict(text=name, xref="paper", yref="paper",
                            x=(px0 + px1) / 2 / W, y=1 - (py0 - HEADER_H / 2) / H,
                            xanchor="center", yanchor="middle", showarrow=False,
                            font=dict(size=28, color="#000", family=FONT)))

    fig.add_trace(go.Scatter(x=xs[:n], y=ys[:n], mode="lines", xaxis="x" + k, yaxis="y" + k,
                             line=dict(color="#111111", width=2.2), hoverinfo="skip",
                             showlegend=False))

fig.update_layout(**layout)
fig.update_layout(width=W, height=H, margin=dict(l=0, r=0, t=0, b=0),
                  paper_bgcolor="white", plot_bgcolor="white",
                  shapes=shapes, annotations=annotations, showlegend=False,
                  font=dict(family=FONT))

fig.write_html("out.html", config={"displayModeBar": False},
               post_script="document.body.style.margin='0px';document.body.style.overflow='hidden';")
